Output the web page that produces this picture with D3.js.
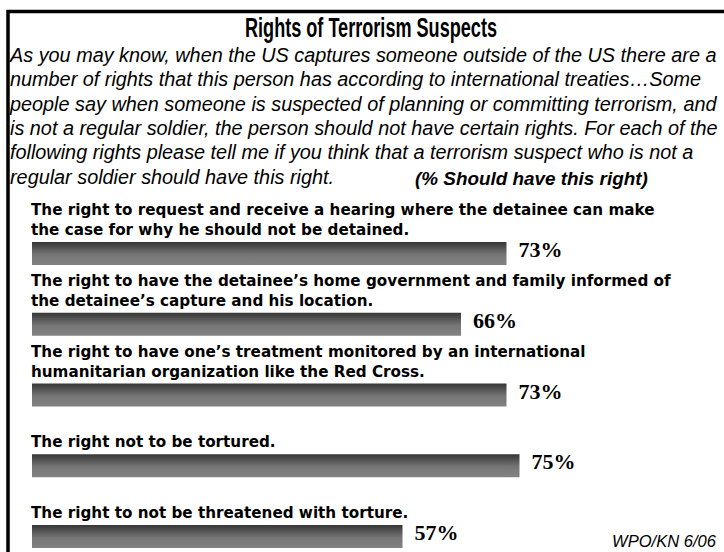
<!DOCTYPE html>
<html>
<head>
<meta charset="utf-8">
<script src="https://cdn.jsdelivr.net/npm/d3@7"></script>
<style>
  body { margin: 0; background: #fff; }
  svg { display: block; }
</style>
</head>
<body>
<svg id="chart" width="724" height="552"></svg>
<script>
// data
var rights = [
  ["The right to request and receive a hearing where the detainee can make", "the case for why he should not be detained."],
  ["The right to have the detainee\u2019s home government and family informed of", "the detainee\u2019s capture and his location."],
  ["The right to have one\u2019s treatment monitored by an international", "humanitarian organization like the Red Cross."],
  ["The right not to be tortured."],
  ["The right to not be threatened with torture."]
];
var shouldHave = [73, 66, 73, 75, 57];
var title = "Rights of Terrorism Suspects";
var question = [
  "As you may know, when the US captures someone outside of the US there are a",
  "number of rights that this person has according to international treaties\u2026Some",
  "people say when someone is suspected of planning or committing terrorism, and",
  "is not a regular soldier, the person should not have certain rights.  For each of the",
  "following rights please tell me if you think that a terrorism suspect who is not a",
  "regular soldier should have this right."
];
var measureNote = "(% Should have this right)";
var source = "WPO/KN 6/06";

var svg = d3.select("#chart"),
  width = +svg.attr("width"),
  height = +svg.attr("height");

var ids = d3.range(rights.length);

// scales
var x = d3.scaleLinear().domain([0, 100]).range([32, 682]);
var y = d3.scalePoint().domain(ids).range([242, 525]);
var barH = 23;

// scale a group's font so that one sample text gets the wanted width
function fitFont(g, sample, target, base) {
  g.style("font-size", base + "px");
  var w = sample.node().getComputedTextLength();
  g.style("font-size", (base * target / w) + "px");
}

// gradient for the bars
var grad = svg.append("defs").append("linearGradient")
  .attr("id", "barGrad").attr("x1", 0).attr("y1", 0).attr("x2", 0).attr("y2", 1);
grad.append("stop").attr("offset", "0%").attr("stop-color", "#363636");
grad.append("stop").attr("offset", "55%").attr("stop-color", "#767676");
grad.append("stop").attr("offset", "100%").attr("stop-color", "#828282");

// frame
svg.append("rect")
  .attr("x", 8).attr("y", 11.5)
  .attr("width", 900).attr("height", 700)
  .attr("fill", "none").attr("stroke", "#000").attr("stroke-width", 3.5);

// title
svg.append("text")
  .attr("x", 371).attr("y", 37)
  .attr("text-anchor", "middle")
  .style("font-family", "'Liberation Sans', sans-serif")
  .style("font-weight", "bold")
  .style("font-size", "27px")
  .attr("textLength", 252).attr("lengthAdjust", "spacingAndGlyphs")
  .text(title);

// question text
var q = svg.append("g")
  .style("font-family", "'Liberation Sans', sans-serif")
  .style("font-style", "italic")
  .style("white-space", "pre");
var qLines = q.selectAll("text").data(question).join("text")
  .attr("x", 10)
  .attr("y", function(d, i) { return 62 + i * 24.3; })
  .text(function(d) { return d; });
fitFont(q, qLines.filter(function(d, i) { return i === 0; }), 707, 18);

var note = svg.append("text")
  .attr("x", 415).attr("y", 185)
  .style("font-family", "'Liberation Sans', sans-serif")
  .style("font-style", "italic").style("font-weight", "bold")
  .text(measureNote);
fitFont(note, note, 233, 18);

// category labels
var lab = svg.append("g")
  .style("font-family", "'DejaVu Sans', sans-serif")
  .style("font-weight", "bold");
ids.forEach(function(i) {
  var lines = rights[i];
  lines.forEach(function(line, j) {
    lab.append("text")
      .attr("x", 31)
      .attr("y", y(i) - 7 - (lines.length - 1 - j) * 20)
      .text(line);
  });
});
fitFont(lab, lab.select("text"), 624, 15);

// bars
svg.append("g").selectAll("rect").data(ids).join("rect")
  .attr("x", x(0))
  .attr("y", function(i) { return y(i); })
  .attr("width", function(i) { return x(shouldHave[i]) - x(0); })
  .attr("height", barH)
  .attr("fill", "url(#barGrad)");

// value labels
svg.append("g").selectAll("text").data(ids).join("text")
  .attr("x", function(i) { return x(shouldHave[i]) + 12; })
  .attr("y", function(i) { return y(i) + 15; })
  .style("font-family", "'Liberation Serif', serif")
  .style("font-weight", "bold")
  .style("font-size", "22px")
  .text(function(i) { return shouldHave[i] + "%"; });

// source
var src = svg.append("text")
  .attr("x", 716).attr("y", 547)
  .attr("text-anchor", "end")
  .style("font-family", "'Liberation Sans', sans-serif")
  .style("font-style", "italic")
  .text(source);
fitFont(src, src, 104, 14);
</script>
</body>
</html>
